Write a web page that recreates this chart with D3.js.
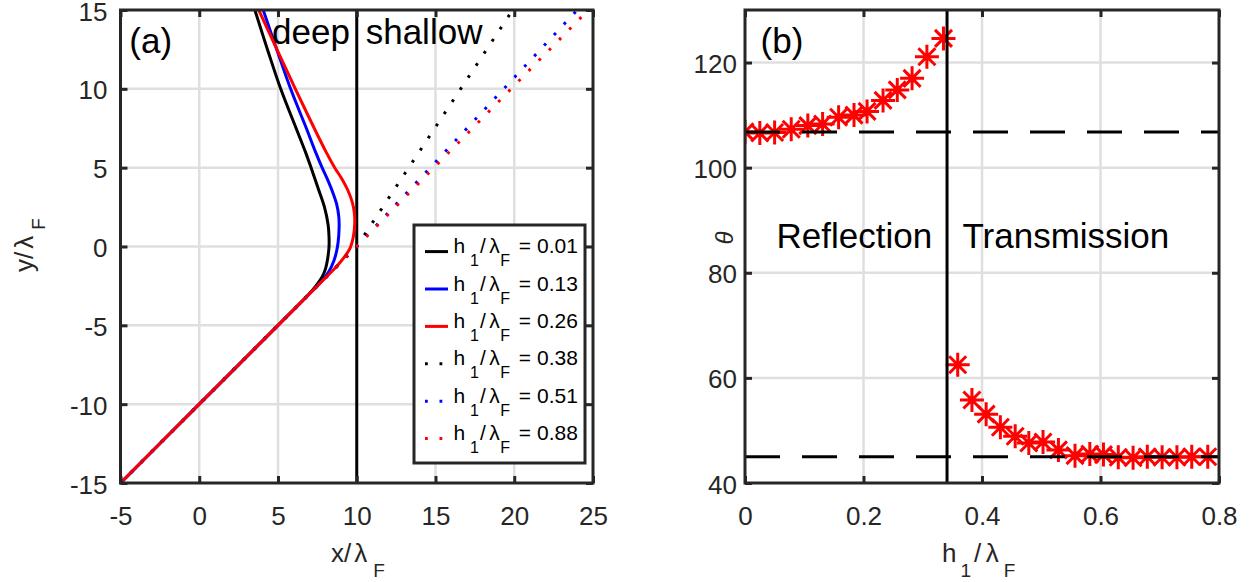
<!DOCTYPE html>
<html>
<head>
<meta charset="utf-8">
<script src="https://cdn.jsdelivr.net/npm/d3@7"></script>
<style>
  body { margin: 0; background: #ffffff; }
  svg { display: block; }
</style>
</head>
<body>
<svg id="chart" width="1250" height="582"></svg>
<script>
// ---------------- DATA ----------------
// Panel (a) axis ticks
const aXTicks = [-5, 0, 5, 10, 15, 20, 25];
const aXLabels = ["-5", "0", "5", "10", "15", "20", "25"];
const aYTicks = [-15, -10, -5, 0, 5, 10, 15];
const aYLabels = ["-15", "-10", "-5", "0", "5", "10", "15"];

// Panel (a) legend values h1/lambdaF
const hLegend = ["0.01", "0.13", "0.26", "0.38", "0.51", "0.88"];

// Panel (a) trajectories (x/lambdaF, y/lambdaF)
const h001X = [-5, 0, 5, 6.7, 7.2, 7.55, 7.82, 8.02, 8.15, 8.24, 8.24, 8.18, 7.95, 7.58, 7.1, 6.74, 6.15, 5.17, 4.33, 3.53];
const h001Y = [-15, -10, -5, -3.3, -2.75, -2.3, -1.9, -1.4, -0.8, 0, 0.6, 1.4, 2.5, 3.6, 5, 6, 7.5, 10, 12.5, 15];

const h013X = [-5, 0, 5, 7.0, 7.5, 7.9, 8.25, 8.55, 8.72, 8.82, 8.88, 8.86, 8.72, 8.45, 8.12, 7.8, 7.38, 6.8, 5.8, 4.92, 4.06];
const h013Y = [-15, -10, -5, -3.0, -2.5, -2.05, -1.55, -0.9, -0.3, 0.3, 1.2, 1.9, 2.7, 3.5, 4.3, 5, 6, 7.5, 10, 12.5, 15];

const h026X = [-5, 0, 5, 7.2, 7.7, 8.2, 8.6, 8.95, 9.3, 9.6, 9.78, 9.87, 9.85, 9.72, 9.42, 9.05, 8.6, 8.05, 7.3, 6.1, 4.93, 3.78];
const h026Y = [-15, -10, -5, -2.8, -2.3, -1.8, -1.4, -1.0, -0.55, -0.05, 0.6, 1.4, 2.1, 2.8, 3.6, 4.3, 5, 6, 7.5, 10, 12.5, 15];

const h038X = [-5, 10, 19.9];
const h038Y = [-15, 0, 15];

const h051X = [-5, 10, 24.0];
const h051Y = [-15, 0, 15];

const h088X = [-5, 10, 24.7];
const h088Y = [-15, 0, 15];

const interfaceX = 10;

// Panel (b) axis ticks
const bXTicks = [0, 0.2, 0.4, 0.6, 0.8];
const bXLabels = ["0", "0.2", "0.4", "0.6", "0.8"];
const bYTicks = [40, 60, 80, 100, 120];
const bYLabels = ["40", "60", "80", "100", "120"];

// Panel (b) angle vs depth
const reflH = [0, 0.025, 0.05, 0.078, 0.106, 0.131, 0.158, 0.184, 0.206, 0.233, 0.257, 0.282, 0.307, 0.335];
const reflTheta = [106.8, 106.6, 106.7, 107.3, 108.0, 108.3, 109.6, 110.0, 110.7, 112.8, 114.8, 117.0, 121.1, 124.6];

const transH = [0.359, 0.383, 0.407, 0.431, 0.456, 0.479, 0.503, 0.529, 0.557, 0.582, 0.605, 0.630, 0.655, 0.679, 0.704, 0.729, 0.754, 0.781];
const transTheta = [62.5, 55.8, 53.1, 50.6, 48.9, 47.6, 47.8, 46.3, 45.2, 45.5, 45.4, 44.9, 44.8, 45.0, 44.9, 44.9, 45.0, 45.0];

const thetaReflLimit = 106.8;
const thetaTransLimit = 45;
const hCritical = 0.341;

// ---------------- DRAWING ----------------
const FONT = '"Liberation Sans", Arial, Helvetica, sans-serif';
const AX = "#262626";
const GRID = "#dfdfdf";
const svg = d3.select("#chart");
svg.append("rect").attr("width", 1250).attr("height", 582).attr("fill", "#fff");

function texLabel(g, x, y, parts, size, subSize, subShift, anchor, transform) {
  const t = g.append("text")
    .attr("x", x).attr("y", y)
    .attr("font-family", FONT).attr("font-size", size)
    .attr("fill", "#262626")
    .attr("text-anchor", anchor || "start");
  if (transform) t.attr("transform", transform);
  let down = false;
  parts.forEach(p => {
    const ts = t.append("tspan").text(p.t);
    let dy = 0;
    if (p.sub && !down) { dy = subShift; down = true; }
    else if (!p.sub && down) { dy = -subShift; down = false; }
    if (dy) ts.attr("dy", dy);
    if (p.dx) ts.attr("dx", p.dx);
    if (p.sub) ts.attr("font-size", subSize);
    if (p.italic) ts.attr("font-style", "italic");
  });
  return t;
}

function grid(g, x, y, xt, yt) {
  const [xl, xr] = x.range(), [yb, yt0] = y.range();
  g.append("g").selectAll("line").data(xt.filter(d => d !== x.domain()[0] && d !== x.domain()[1])).join("line")
    .attr("x1", d => x(d)).attr("x2", d => x(d)).attr("y1", yt0).attr("y2", yb)
    .attr("stroke", GRID).attr("stroke-width", 2.5);
  g.append("g").selectAll("line").data(yt.filter(d => d !== y.domain()[0] && d !== y.domain()[1])).join("line")
    .attr("y1", d => y(d)).attr("y2", d => y(d)).attr("x1", xl).attr("x2", xr)
    .attr("stroke", GRID).attr("stroke-width", 2.5);
}

function frame(g, x, y, xt, xlab, yt, ylab, labelGap) {
  const [xl, xr] = x.range(), [yb, ytop] = y.range();
  const style = s => {
    s.select(".domain").remove();
    s.selectAll(".tick line").attr("stroke", AX).attr("stroke-width", 3);
    s.selectAll(".tick text").attr("font-size", 26).attr("font-family", FONT).attr("fill", AX);
  };
  g.append("g").attr("transform", `translate(0,${yb})`)
    .call(d3.axisBottom(x).tickValues(xt).tickFormat((d, i) => xlab[i]).tickSizeInner(-7).tickSizeOuter(0))
    .call(style)
    .call(s => s.selectAll(".tick text").attr("y", 42).attr("dy", null));
  g.append("g").attr("transform", `translate(${xl},0)`)
    .call(d3.axisLeft(y).tickValues(yt).tickFormat((d, i) => ylab[i]).tickSizeInner(-7).tickSizeOuter(0))
    .call(style)
    .call(s => s.selectAll(".tick text").attr("x", -labelGap).attr("y", 10).attr("dy", null));
  g.append("g").attr("transform", `translate(0,${ytop})`)
    .call(d3.axisTop(x).tickValues(xt).tickFormat(() => "").tickSizeInner(-7).tickSizeOuter(0))
    .call(style);
  g.append("g").attr("transform", `translate(${xr},0)`)
    .call(d3.axisRight(y).tickValues(yt).tickFormat(() => "").tickSizeInner(-7).tickSizeOuter(0))
    .call(style);
  g.append("rect").attr("x", xl).attr("y", ytop).attr("width", xr - xl).attr("height", yb - ytop)
    .attr("fill", "none").attr("stroke", AX).attr("stroke-width", 3);
}

// ---------- Panel (a) ----------
const xa = d3.scaleLinear().domain([-5, 25]).range([120.5, 593]);
const ya = d3.scaleLinear().domain([-15, 15]).range([483, 10]);
const ga = svg.append("g");

svg.append("defs").append("clipPath").attr("id", "clipA")
  .append("rect").attr("x", 120.5).attr("y", 10).attr("width", 472.5).attr("height", 473);

grid(ga, xa, ya, aXTicks, aYTicks);

const plotA = ga.append("g").attr("clip-path", "url(#clipA)");
plotA.append("line")
  .attr("x1", xa(interfaceX)).attr("x2", xa(interfaceX)).attr("y1", ya(-15)).attr("y2", ya(15))
  .attr("stroke", "#000").attr("stroke-width", 3);

const seriesA = [
  { x: h001X, y: h001Y, color: "#000000", dotted: false },
  { x: h013X, y: h013Y, color: "#0000ff", dotted: false },
  { x: h026X, y: h026Y, color: "#ff0000", dotted: false },
  { x: h038X, y: h038Y, color: "#000000", dotted: true },
  { x: h051X, y: h051Y, color: "#0000ff", dotted: true },
  { x: h088X, y: h088Y, color: "#ff0000", dotted: true }
];
const smooth = d3.line().x(d => xa(d[0])).y(d => ya(d[1])).curve(d3.curveCatmullRom.alpha(0.5));
const straight = d3.line().x(d => xa(d[0])).y(d => ya(d[1]));
const DOTS = "2.8,11.7";

seriesA.forEach(s => {
  const pts = s.x.map((v, i) => [v, s.y[i]]);
  plotA.append("path")
    .attr("d", s.dotted ? straight(pts) : smooth(pts))
    .attr("fill", "none").attr("stroke", s.color).attr("stroke-width", 3)
    .attr("stroke-dasharray", s.dotted ? DOTS : null);
});

// annotations
ga.append("text").attr("x", 129.3).attr("y", 53).attr("font-family", FONT).attr("font-size", 35).text("(a)");
ga.append("text").attr("x", 272).attr("y", 44).attr("font-family", FONT).attr("font-size", 35).text("deep");
ga.append("text").attr("x", 365.7).attr("y", 44).attr("font-family", FONT).attr("font-size", 35).text("shallow");

// legend
const lg = ga.append("g");
lg.append("rect").attr("x", 414).attr("y", 225).attr("width", 171).attr("height", 238)
  .attr("fill", "#fff").attr("stroke", AX).attr("stroke-width", 3);
seriesA.forEach((s, i) => {
  const cy = 251.6 + i * 37.4;
  lg.append("line").attr("x1", 425).attr("x2", 448).attr("y1", cy).attr("y2", cy)
    .attr("stroke", s.color).attr("stroke-width", 3)
    .attr("stroke-dasharray", s.dotted ? DOTS : null);
  const t = texLabel(lg, 453.5, cy + 1.6, [
    { t: "h" }, { t: "1", sub: true, dx: 4.8 }, { t: "/", dx: 1 }, { t: "λ", dx: 3.5 },
    { t: "F", sub: true, dx: 0.5 }, { t: " = " + hLegend[i], dx: 3 }
  ], 21, 16, 13, "start");
  t.attr("fill", "#000");
});

frame(ga, xa, ya, aXTicks, aXLabels, aYTicks, aYLabels, 13);

texLabel(ga, 331, 561.7, [{ t: "x" }, { t: "/" }, { t: "λ", dx: 3 }, { t: "F", sub: true, dx: 6 }], 26, 19, 15, "start");
texLabel(ga, 0, 0, [{ t: "y" }, { t: "/" }, { t: "λ", dx: 3 }, { t: "F", sub: true, dx: 6 }], 26, 19, 12, "middle",
  "translate(33,245) rotate(-90)");

// ---------- Panel (b) ----------
const xb = d3.scaleLinear().domain([0, 0.8]).range([745, 1219]);
const yb = d3.scaleLinear().domain([40, 130]).range([483, 10]);
const gb = svg.append("g");
svg.select("defs").append("clipPath").attr("id", "clipB")
  .append("rect").attr("x", 745).attr("y", 10).attr("width", 474).attr("height", 473);

grid(gb, xb, yb, bXTicks, bYTicks);
const plotB = gb.append("g").attr("clip-path", "url(#clipB)");

const r = 12, dd = 8.5;
const star = `M${-r},0H${r}M0,${-r}V${r}M${-dd},${-dd}L${dd},${dd}M${-dd},${dd}L${dd},${-dd}`;
const allPts = reflH.map((h, i) => [h, reflTheta[i]]).concat(transH.map((h, i) => [h, transTheta[i]]));
plotB.append("g").selectAll("path").data(allPts).join("path")
  .attr("transform", d => `translate(${xb(d[0])},${yb(d[1])})`)
  .attr("d", star).attr("fill", "none").attr("stroke", "#ff0000").attr("stroke-width", 3);

[thetaReflLimit, thetaTransLimit].forEach(v => {
  plotB.append("line").attr("x1", xb(0)).attr("x2", xb(0.8)).attr("y1", yb(v)).attr("y2", yb(v))
    .attr("stroke", "#000").attr("stroke-width", 3).attr("stroke-dasharray", "35,22");
});
plotB.append("line").attr("x1", xb(hCritical)).attr("x2", xb(hCritical)).attr("y1", yb(40)).attr("y2", yb(130))
  .attr("stroke", "#000").attr("stroke-width", 3);

gb.append("text").attr("x", 760.6).attr("y", 53).attr("font-family", FONT).attr("font-size", 35).text("(b)");
gb.append("text").attr("x", 776.5).attr("y", 248).attr("font-family", FONT).attr("font-size", 35).text("Reflection");
gb.append("text").attr("x", 962.5).attr("y", 248).attr("font-family", FONT).attr("font-size", 35).text("Transmission");

frame(gb, xb, yb, bXTicks, bXLabels, bYTicks, bYLabels, 8);

texLabel(gb, 942, 561.7, [{ t: "h" }, { t: "1", sub: true, dx: 4 }, { t: "/", dx: 3 }, { t: "λ", dx: 4.5 }, { t: "F", sub: true, dx: 5 }], 26, 19, 15, "start");
texLabel(gb, 0, 0, [{ t: "θ", italic: true }], 24, 18, 0, "middle", "translate(733,238) rotate(-90)");
</script>
</body>
</html>
